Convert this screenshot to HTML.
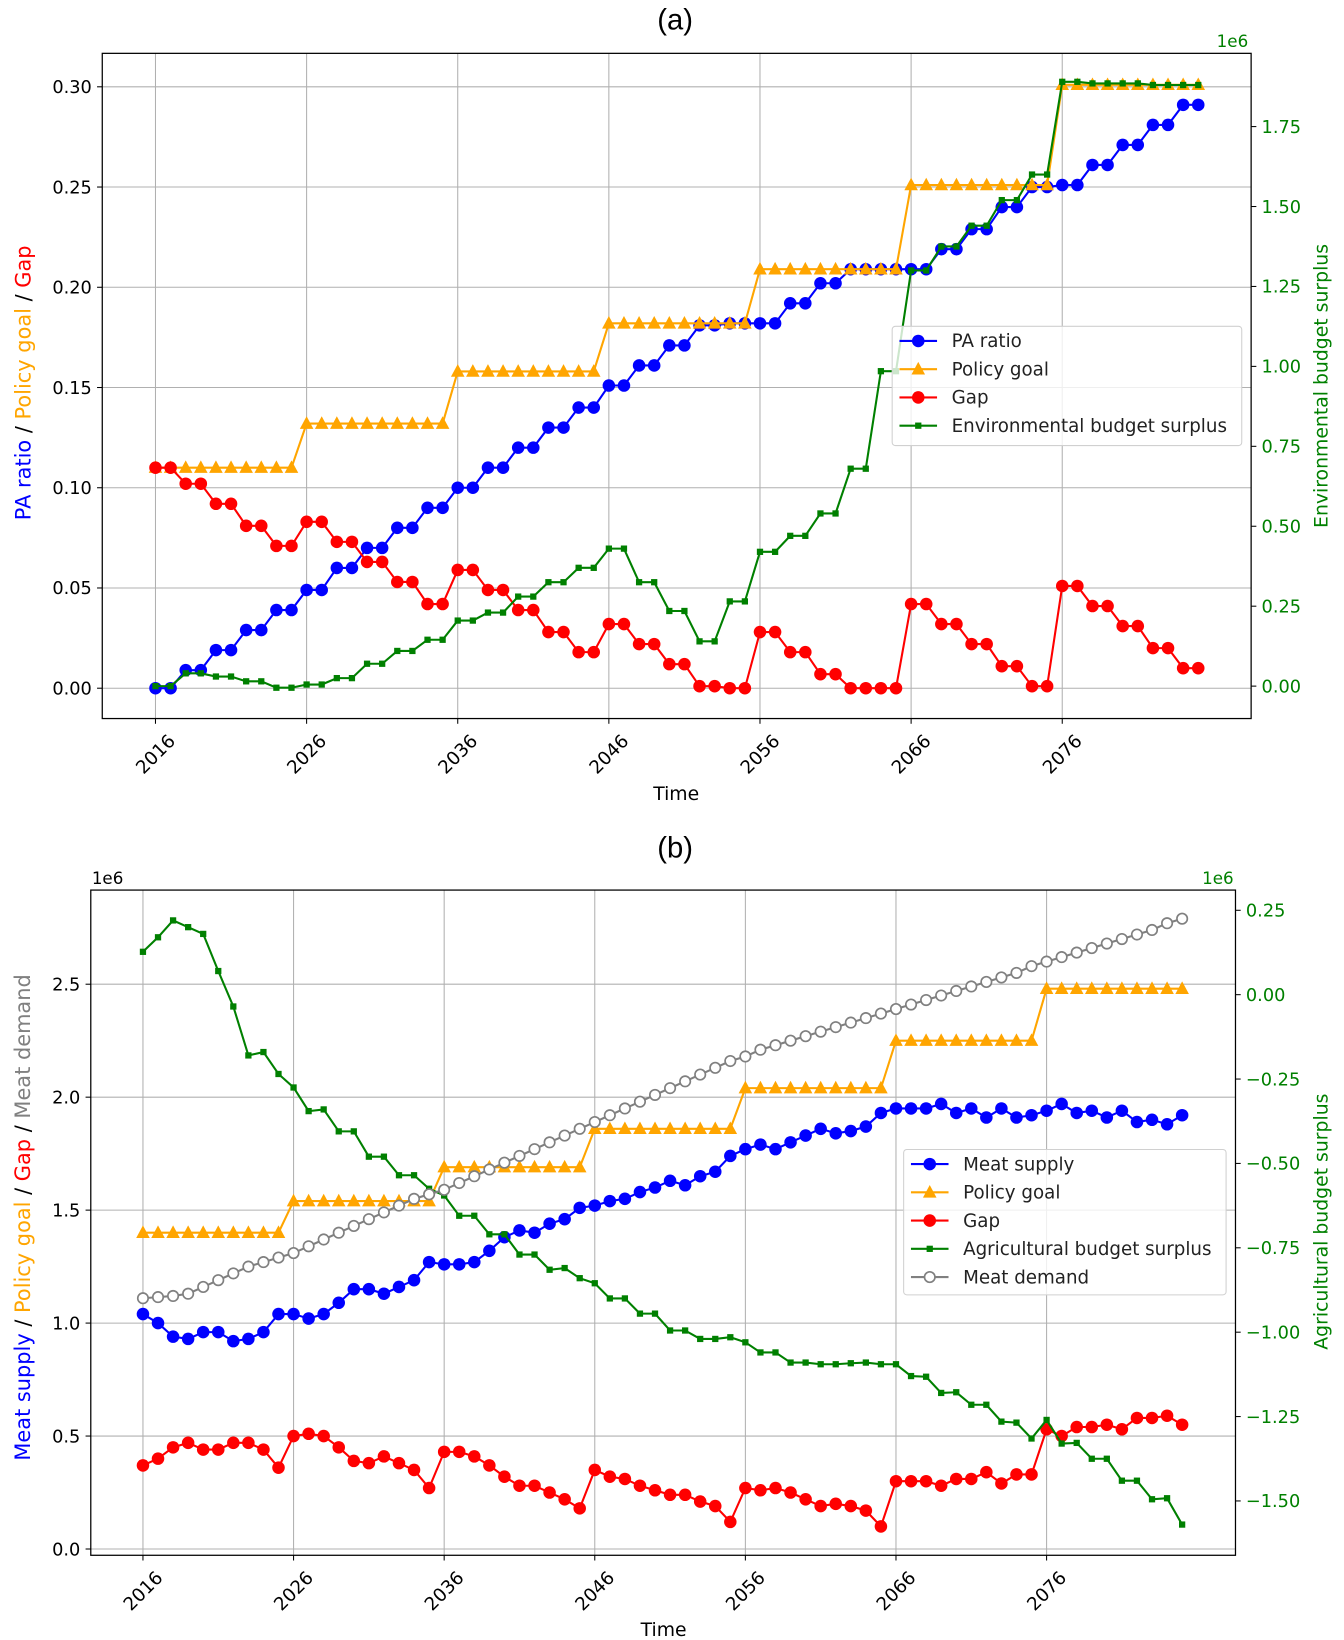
<!DOCTYPE html>
<html><head><meta charset="utf-8"><style>
html,body{margin:0;padding:0;background:#fff;}
svg{display:block;font-family:"DejaVu Sans","Liberation Sans",sans-serif;}
</style></head><body>
<svg id="chart" width="1344" height="1640" viewBox="0 0 1288 1568" preserveAspectRatio="none" xmlns="http://www.w3.org/2000/svg"></svg>
<script>
// ---------- data ----------
const years = [];
for (let y = 2016; y <= 2085; y++) years.push(y);
const xTickYears = [2016, 2026, 2036, 2046, 2056, 2066, 2076];

// Panel (a)
const aLeftTicks = [0, 0.05, 0.10, 0.15, 0.20, 0.25, 0.30];
const aRightTicks = [0, 0.25, 0.5, 0.75, 1.0, 1.25, 1.5, 1.75];
const paRatio = [0,0,0.009,0.009,0.019,0.019,0.029,0.029,0.039,0.039,
0.049,0.049,0.06,0.06,0.07,0.07,0.08,0.08,0.09,0.09,
0.10,0.10,0.11,0.11,0.12,0.12,0.13,0.13,0.14,0.14,
0.151,0.151,0.161,0.161,0.171,0.171,0.181,0.181,0.182,0.182,
0.182,0.182,0.192,0.192,0.202,0.202,0.209,0.209,0.209,0.209,
0.209,0.209,0.219,0.219,0.229,0.229,0.24,0.24,0.25,0.25,
0.251,0.251,0.261,0.261,0.271,0.271,0.281,0.281,0.291,0.291];
const aPolicy = [0.11,0.11,0.11,0.11,0.11,0.11,0.11,0.11,0.11,0.11,
0.132,0.132,0.132,0.132,0.132,0.132,0.132,0.132,0.132,0.132,
0.158,0.158,0.158,0.158,0.158,0.158,0.158,0.158,0.158,0.158,
0.182,0.182,0.182,0.182,0.182,0.182,0.182,0.182,0.182,0.182,
0.209,0.209,0.209,0.209,0.209,0.209,0.209,0.209,0.209,0.209,
0.251,0.251,0.251,0.251,0.251,0.251,0.251,0.251,0.251,0.251,
0.301,0.301,0.301,0.301,0.301,0.301,0.301,0.301,0.301,0.301];
const aGap = [0.11,0.11,0.102,0.102,0.092,0.092,0.081,0.081,0.071,0.071,
0.083,0.083,0.073,0.073,0.063,0.063,0.053,0.053,0.042,0.042,
0.059,0.059,0.049,0.049,0.039,0.039,0.028,0.028,0.018,0.018,
0.032,0.032,0.022,0.022,0.012,0.012,0.001,0.001,0,0,
0.028,0.028,0.018,0.018,0.007,0.007,0,0,0,0,
0.042,0.042,0.032,0.032,0.022,0.022,0.011,0.011,0.001,0.001,
0.051,0.051,0.041,0.041,0.031,0.031,0.020,0.020,0.010,0.010];
const envBudget = [0,0,0.04,0.04,0.03,0.03,0.015,0.015,-0.005,-0.005,
0.005,0.005,0.025,0.025,0.07,0.07,0.11,0.11,0.145,0.145,
0.205,0.205,0.23,0.23,0.28,0.28,0.325,0.325,0.37,0.37,
0.43,0.43,0.325,0.325,0.235,0.235,0.14,0.14,0.265,0.265,
0.42,0.42,0.47,0.47,0.54,0.54,0.68,0.68,0.985,0.985,
1.3,1.3,1.375,1.375,1.44,1.44,1.52,1.52,1.6,1.6,
1.89,1.89,1.885,1.885,1.885,1.885,1.88,1.88,1.88,1.88];

// Panel (b)
const bLeftTicks = [0, 0.5, 1.0, 1.5, 2.0, 2.5];
const bRightTicks = [0.25, 0, -0.25, -0.5, -0.75, -1.0, -1.25, -1.5];
const meatSupply = [1.04,1.00,0.94,0.93,0.96,0.96,0.92,0.93,0.96,1.04,
1.04,1.02,1.04,1.09,1.15,1.15,1.13,1.16,1.19,1.27,
1.26,1.26,1.27,1.32,1.38,1.41,1.40,1.44,1.46,1.51,
1.52,1.54,1.55,1.58,1.60,1.63,1.61,1.65,1.67,1.74,
1.77,1.79,1.77,1.80,1.83,1.86,1.84,1.85,1.87,1.93,
1.95,1.95,1.95,1.97,1.93,1.95,1.91,1.95,1.91,1.92,
1.94,1.97,1.93,1.94,1.91,1.94,1.89,1.90,1.88,1.92];
const bPolicy = [1.40,1.40,1.40,1.40,1.40,1.40,1.40,1.40,1.40,1.40,
1.54,1.54,1.54,1.54,1.54,1.54,1.54,1.54,1.54,1.54,
1.69,1.69,1.69,1.69,1.69,1.69,1.69,1.69,1.69,1.69,
1.86,1.86,1.86,1.86,1.86,1.86,1.86,1.86,1.86,1.86,
2.04,2.04,2.04,2.04,2.04,2.04,2.04,2.04,2.04,2.04,
2.25,2.25,2.25,2.25,2.25,2.25,2.25,2.25,2.25,2.25,
2.48,2.48,2.48,2.48,2.48,2.48,2.48,2.48,2.48,2.48];
const bGap = [0.37,0.40,0.45,0.47,0.44,0.44,0.47,0.47,0.44,0.36,
0.50,0.51,0.50,0.45,0.39,0.38,0.41,0.38,0.35,0.27,
0.43,0.43,0.41,0.37,0.32,0.28,0.28,0.25,0.22,0.18,
0.35,0.32,0.31,0.28,0.26,0.24,0.24,0.21,0.19,0.12,
0.27,0.26,0.27,0.25,0.22,0.19,0.20,0.19,0.17,0.10,
0.30,0.30,0.30,0.28,0.31,0.31,0.34,0.29,0.33,0.33,
0.53,0.50,0.54,0.54,0.55,0.53,0.58,0.58,0.59,0.55];
const agriBudget = [0.127,0.17,0.22,0.20,0.18,0.07,-0.035,-0.18,-0.17,-0.235,
-0.275,-0.345,-0.34,-0.405,-0.405,-0.48,-0.48,-0.535,-0.535,-0.575,
-0.595,-0.655,-0.655,-0.71,-0.71,-0.77,-0.77,-0.815,-0.81,-0.84,
-0.855,-0.90,-0.90,-0.945,-0.945,-0.995,-0.995,-1.02,-1.02,-1.015,
-1.03,-1.06,-1.06,-1.09,-1.09,-1.095,-1.095,-1.092,-1.09,-1.095,
-1.095,-1.13,-1.132,-1.18,-1.178,-1.215,-1.215,-1.265,-1.268,-1.315,
-1.26,-1.33,-1.328,-1.375,-1.375,-1.44,-1.44,-1.495,-1.492,-1.57];
const meatDemand = [1.11,1.115,1.12,1.13,1.16,1.19,1.22,1.25,1.27,1.29,
1.31,1.34,1.37,1.40,1.43,1.46,1.49,1.52,1.55,1.57,
1.59,1.62,1.65,1.68,1.71,1.74,1.77,1.80,1.83,1.86,
1.89,1.92,1.95,1.98,2.01,2.04,2.07,2.10,2.13,2.16,
2.18,2.21,2.23,2.25,2.27,2.29,2.31,2.33,2.35,2.37,
2.39,2.41,2.43,2.45,2.47,2.49,2.51,2.53,2.55,2.58,
2.60,2.62,2.64,2.66,2.68,2.70,2.72,2.74,2.77,2.79];

// ---------- helpers ----------
const NS = "http://www.w3.org/2000/svg";
const svg = document.getElementById("chart");
function el(tag, attrs, parent) {
  const e = document.createElementNS(NS, tag);
  for (const k in attrs) e.setAttribute(k, attrs[k]);
  (parent || svg).appendChild(e);
  return e;
}
function fmt(v, d) { const s = Math.abs(v).toFixed(d); return (v < 0 ? "\u2212" : "") + s; }

function marker(g, kind, x, y, color) {
  let m;
  if (kind === "circle") m = el("circle", {cx: x, cy: y, r: 6, fill: color}, g);
  else if (kind === "tri") m = el("polygon", {points: `${x},${y-7} ${x-6.5},${y+5} ${x+6.5},${y+5}`, fill: color}, g);
  else if (kind === "square") m = el("rect", {x: x-3, y: y-3, width: 6, height: 6, fill: color}, g);
  else m = el("circle", {cx: x, cy: y, r: 5, fill: "#fff", stroke: color, "stroke-width": 1.6}, g);
  return m;
}

function drawSeries(name, vals, xf, yf, color, kind) {
  const g = el("g", {});
  
  
  const pts = vals.map((v, i) => `${xf(years[i]).toFixed(2)},${yf(v).toFixed(2)}`).join(" ");
  el("polyline", {points: pts, fill: "none", stroke: color, "stroke-width": 2}, g);
  vals.forEach((v, i) => {
    const m = marker(g, kind, xf(years[i]), yf(v), color);
    
    
  });
}

function panel(cfg) {
  const {L, R, T, B, xf, yL, yR, leftTicks, leftDec, rightTicks, rightDec, prefix} = cfg;
  const grid = el("g", {});
  
  
  xTickYears.forEach(y => el("line", {x1: xf(y), x2: xf(y), y1: T, y2: B, stroke: "#b0b0b0", "stroke-width": 1}, grid));
  leftTicks.forEach(v => el("line", {x1: L, x2: R, y1: yL(v), y2: yL(v), stroke: "#b0b0b0", "stroke-width": 1}, grid));
  const xt = el("g", {});
  
  
  xTickYears.forEach(y => {
    const x = xf(y);
    el("line", {x1: x, x2: x, y1: B, y2: B + 5, stroke: "#000", "stroke-width": 1}, xt);
    const cy = B + 34;
    const t = el("text", {x: x, y: cy + 6, "font-size": 17.5, "text-anchor": "middle", transform: `rotate(-45 ${x} ${cy})`}, xt);
    t.textContent = y;
  });
  const yt = el("g", {});
  
  
  leftTicks.forEach(v => {
    const y = yL(v);
    el("line", {x1: L - 5, x2: L, y1: y, y2: y, stroke: "#000"}, yt);
    const t = el("text", {x: L - 10, y: y + 6, "font-size": 17, "text-anchor": "end"}, yt);
    t.textContent = fmt(v, leftDec);
  });
  const rt = el("g", {});
  
  
  rightTicks.forEach(v => {
    const y = yR(v);
    el("line", {x1: R, x2: R + 5, y1: y, y2: y, stroke: "#000"}, rt);
    const t = el("text", {x: R + 10, y: y + 6, "font-size": 17, fill: "green"}, rt);
    t.textContent = fmt(v, rightDec);
  });
}

// ---------- Panel (a) ----------
const aL = 98, aR = 1199, aT = 51, aB = 687;
const axA = y => 149 + (y - 2016) * 14.483;
const ayL = v => 658 - v * 1916.7;
const ayR = v => 656 - v * 305.7;
panel({L: aL, R: aR, T: aT, B: aB, xf: axA, yL: ayL, yR: ayR, leftTicks: aLeftTicks, leftDec: 2, rightTicks: aRightTicks, rightDec: 2, prefix: "panel-a"});
drawSeries("pa-ratio-line", paRatio, axA, ayL, "blue", "circle");
drawSeries("policy-goal-a-line", aPolicy, axA, ayL, "orange", "tri");
drawSeries("gap-a-line", aGap, axA, ayL, "red", "circle");
drawSeries("env-budget-line", envBudget, axA, ayR, "green", "square");
el("rect", {x: aL, y: aT, width: aR - aL, height: aB - aT, fill: "none", stroke: "#000", "stroke-width": 1.2});

// ---------- Panel (b) ----------
const bL = 87, bR = 1184, bT = 851, bB = 1487;
const bxf = y => 137 + (y - 2016) * 14.433;
const byL = v => 1481 - v * 216;
const byR = v => 951 - v * 322.7;
panel({L: bL, R: bR, T: bT, B: bB, xf: bxf, yL: byL, yR: byR, leftTicks: bLeftTicks, leftDec: 1, rightTicks: bRightTicks, rightDec: 2, prefix: "panel-b"});
drawSeries("meat-supply-line", meatSupply, bxf, byL, "blue", "circle");
drawSeries("policy-goal-b-line", bPolicy, bxf, byL, "orange", "tri");
drawSeries("gap-b-line", bGap, bxf, byL, "red", "circle");
drawSeries("agri-budget-line", agriBudget, bxf, byR, "green", "square");
drawSeries("meat-demand-line", meatDemand, bxf, byL, "gray", "hollow");
el("rect", {x: bL, y: bT, width: bR - bL, height: bB - bT, fill: "none", stroke: "#000", "stroke-width": 1.2});

// ---------- legends ----------
function legend(prefix, x, y, w, h, entries) {
  const g = el("g", {});
  
  
  el("rect", {x: x, y: y, width: w, height: h, rx: 3, fill: "rgba(255,255,255,0.8)", stroke: "#d0d0d0"}, g);
  entries.forEach((e, i) => {
    const cy = y + 14 + i * 27;
    const item = el("g", {}, g);
    
    
    el("line", {x1: x + 7, x2: x + 43, y1: cy, y2: cy, stroke: e[1], "stroke-width": 2}, item);
    marker(item, e[2], x + 25, cy, e[1]);
    const t = el("text", {x: x + 57, y: cy + 6, "font-size": 17.5, fill: "#222"}, item);
    t.textContent = e[0];
  });
}
legend("legend-a", 855, 312, 335, 114, [["PA ratio","blue","circle"],["Policy goal","orange","tri"],["Gap","red","circle"],["Environmental budget surplus","green","square"]]);
legend("legend-b", 866, 1099, 309, 139, [["Meat supply","blue","circle"],["Policy goal","orange","tri"],["Gap","red","circle"],["Agricultural budget surplus","green","square"],["Meat demand","gray","hollow"]]);

// ---------- text labels ----------
function txt(name, s, attrs) {
  const t = el("text", attrs);
  
  
  t.textContent = s;
  return t;
}
txt("title-a", "(a)", {x: 647, y: 28, "font-size": 28, "text-anchor": "middle", "font-family": "Liberation Sans, sans-serif"});
txt("title-b", "(b)", {x: 647, y: 820, "font-size": 28, "text-anchor": "middle", "font-family": "Liberation Sans, sans-serif"});
txt("x-axis-title-a", "Time", {x: 648, y: 765, "font-size": 18, "text-anchor": "middle"});
txt("x-axis-title-b", "Time", {x: 636, y: 1564, "font-size": 18, "text-anchor": "middle"});
txt("right-offset-a", "1e6", {x: 1166, y: 45, "font-size": 16, fill: "green"});
txt("left-offset-b", "1e6", {x: 88, y: 845, "font-size": 16});
txt("right-offset-b", "1e6", {x: 1152, y: 845, "font-size": 16, fill: "green"});
txt("right-y-title-a", "Environmental budget surplus", {x: 1272, y: 369, "font-size": 18, fill: "green", "text-anchor": "middle", transform: "rotate(-90 1272 369)"});
txt("right-y-title-b", "Agricultural budget surplus", {x: 1272, y: 1168, "font-size": 18, fill: "green", "text-anchor": "middle", transform: "rotate(-90 1272 1168)"});

function multiLabel(name, cx, cy, parts) {
  const t = el("text", {x: cx, y: cy, "font-size": 20, "text-anchor": "middle", transform: `rotate(-90 ${cx} ${cy})`});
  
  
  parts.forEach(p => { const s = el("tspan", {fill: p[1]}, t); s.textContent = p[0]; });
}
multiLabel("left-y-title-a", 29, 366, [["PA ratio","blue"],[" / ","#000"],["Policy goal","orange"],[" / ","#000"],["Gap","red"]]);
multiLabel("left-y-title-b", 29, 1164, [["Meat supply","blue"],[" / ","#000"],["Policy goal","orange"],[" / ","#000"],["Gap","red"],[" / ","#000"],["Meat demand","gray"]]);
</script>
</body></html>
